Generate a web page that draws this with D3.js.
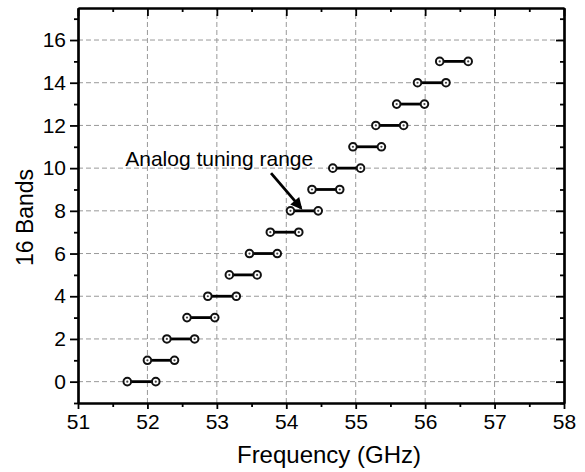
<!DOCTYPE html>
<html>
<head>
<meta charset="utf-8">
<script src="https://cdn.jsdelivr.net/npm/d3@7"></script>
<style>
  body { margin: 0; background: #fff; }
  text { font-family: "Liberation Sans", Arial, sans-serif; }
</style>
</head>
<body>
<div id="chart"></div>
<script>
// band index and its analog tuning range (GHz)
const bands = [0, 1, 2, 3, 4, 5, 6, 7, 8, 9, 10, 11, 12, 13, 14, 15]
const fStart = [51.71, 52.00, 52.28, 52.57, 52.87, 53.18, 53.47, 53.77, 54.06, 54.37, 54.67, 54.96, 55.29, 55.59, 55.89, 56.21]
const fStop = [52.12, 52.39, 52.68, 52.97, 53.28, 53.58, 53.87, 54.18, 54.46, 54.77, 55.07, 55.37, 55.69, 55.99, 56.30, 56.62]

const xTicks = [51, 52, 53, 54, 55, 56, 57, 58]
const xMinor = [51.5, 52.5, 53.5, 54.5, 55.5, 56.5, 57.5]
const yTicks = [0, 2, 4, 6, 8, 10, 12, 14, 16]
const yMinor = [-1, 1, 3, 5, 7, 9, 11, 13, 15, 17]

const annoText = 'Analog tuning range'
const annoPos = [51.68, 10.12]
const arrowFrom = [53.78, 9.77]
const arrowTo = [54.21, 8.14]

const w = 585
const h = 472
const margin = {top: 8, right: 21, bottom: 69, left: 78}

const svg = d3.select('#chart')
    .append('svg')
    .attr('width', w)
    .attr('height', h)

svg.append('rect').attr('width', w).attr('height', h).attr('fill', '#fff')

const x = d3.scaleLinear().domain([51, 58]).range([margin.left, w - margin.right])
const y = d3.scaleLinear().domain([-1, 17.5]).range([h - margin.bottom, margin.top])

// dashed grid
svg.append('g')
    .selectAll('line')
    .data(xTicks.slice(1, -1))
    .enter()
    .append('line')
    .attr('x1', d => x(d)).attr('x2', d => x(d))
    .attr('y1', y(-1)).attr('y2', y(17.5))
    .attr('stroke', '#999')
    .attr('stroke-dasharray', '5,3')

svg.append('g')
    .selectAll('line')
    .data(yTicks)
    .enter()
    .append('line')
    .attr('x1', x(51)).attr('x2', x(58))
    .attr('y1', d => y(d)).attr('y2', d => y(d))
    .attr('stroke', '#999')
    .attr('stroke-dasharray', '5,3')

// axes
const styleAxis = g => {
    g.select('.domain').attr('stroke', '#000').attr('stroke-width', 2.2)
    g.selectAll('.tick line').attr('stroke', '#000').attr('stroke-width', 1.8)
    g.selectAll('.tick text').attr('fill', '#000').style('font-size', '21px')
        .style('font-family', '"Liberation Sans", Arial, sans-serif')
}

const bottom = h - margin.bottom
const left = margin.left

svg.append('g')
    .attr('transform', `translate(0, ${bottom})`)
    .call(d3.axisBottom(x).tickValues(xMinor).tickSize(4).tickFormat('').tickSizeOuter(0))
    .call(styleAxis)
svg.append('g')
    .attr('transform', `translate(0, ${bottom})`)
    .call(d3.axisBottom(x).tickValues(xTicks).tickSize(6).tickPadding(5).tickFormat(d3.format('d')).tickSizeOuter(0))
    .call(styleAxis)

svg.append('g')
    .attr('transform', `translate(${left}, 0)`)
    .call(d3.axisLeft(y).tickValues(yMinor).tickSize(4).tickFormat('').tickSizeOuter(0))
    .call(styleAxis)
svg.append('g')
    .attr('transform', `translate(${left}, 0)`)
    .call(d3.axisLeft(y).tickValues(yTicks).tickSize(8).tickPadding(4).tickFormat(d3.format('d')).tickSizeOuter(0))
    .call(styleAxis)

svg.append('g')
    .attr('transform', `translate(0, ${margin.top})`)
    .call(d3.axisTop(x).tickValues(xMinor).tickSize(-4).tickFormat('').tickSizeOuter(0))
    .call(styleAxis)
svg.append('g')
    .attr('transform', `translate(0, ${margin.top})`)
    .call(d3.axisTop(x).tickValues(xTicks).tickSize(-8).tickFormat('').tickSizeOuter(0))
    .call(styleAxis)

svg.append('g')
    .attr('transform', `translate(${w - margin.right}, 0)`)
    .call(d3.axisRight(y).tickValues(yMinor).tickSize(-4).tickFormat('').tickSizeOuter(0))
    .call(styleAxis)
svg.append('g')
    .attr('transform', `translate(${w - margin.right}, 0)`)
    .call(d3.axisRight(y).tickValues(yTicks).tickSize(-8).tickFormat('').tickSizeOuter(0))
    .call(styleAxis)

// axis titles
svg.append('text')
    .attr('x', (x(51) + x(58)) / 2 + 8)
    .attr('y', h - 9)
    .attr('text-anchor', 'middle')
    .style('font-size', '24px')
    .text('Frequency (GHz)')

svg.append('text')
    .attr('transform', `translate(33, ${(y(-1) + y(17.5)) / 2 + 12}) rotate(-90)`)
    .attr('text-anchor', 'middle')
    .style('font-size', '23px')
    .text('16 Bands')

// tuning ranges
const bandG = svg.append('g')

bandG.selectAll('line')
    .data(bands)
    .enter()
    .append('line')
    .attr('x1', (d, i) => x(fStart[i]))
    .attr('x2', (d, i) => x(fStop[i]))
    .attr('y1', d => y(d))
    .attr('y2', d => y(d))
    .attr('stroke', '#000')
    .attr('stroke-width', 2.8)

const ends = bands.flatMap((d, i) => [[fStart[i], d], [fStop[i], d]])

bandG.selectAll('circle.end')
    .data(ends)
    .enter()
    .append('circle')
    .attr('class', 'end')
    .attr('cx', d => x(d[0]))
    .attr('cy', d => y(d[1]))
    .attr('r', 3.8)
    .attr('fill', '#fff')
    .attr('stroke', '#111')
    .attr('stroke-width', 2)

bandG.selectAll('circle.dot')
    .data(ends)
    .enter()
    .append('circle')
    .attr('class', 'dot')
    .attr('cx', d => x(d[0]))
    .attr('cy', d => y(d[1]))
    .attr('r', 1.1)
    .attr('fill', '#444')

// annotation
svg.append('defs')
    .append('marker')
    .attr('id', 'arrow')
    .attr('viewBox', '0 0 10 10')
    .attr('refX', 8)
    .attr('refY', 5)
    .attr('markerWidth', 5)
    .attr('markerHeight', 4.2)
    .attr('orient', 'auto')
    .append('path')
    .attr('d', 'M0,0 L10,5 L0,10 Z')
    .attr('fill', '#000')

svg.append('line')
    .attr('x1', x(arrowFrom[0])).attr('y1', y(arrowFrom[1]))
    .attr('x2', x(arrowTo[0])).attr('y2', y(arrowTo[1]))
    .attr('stroke', '#000')
    .attr('stroke-width', 2.8)
    .attr('marker-end', 'url(#arrow)')

svg.append('text')
    .attr('x', x(annoPos[0]))
    .attr('y', y(annoPos[1]))
    .style('font-size', '21px')
    .text(annoText)
</script>
</body>
</html>
